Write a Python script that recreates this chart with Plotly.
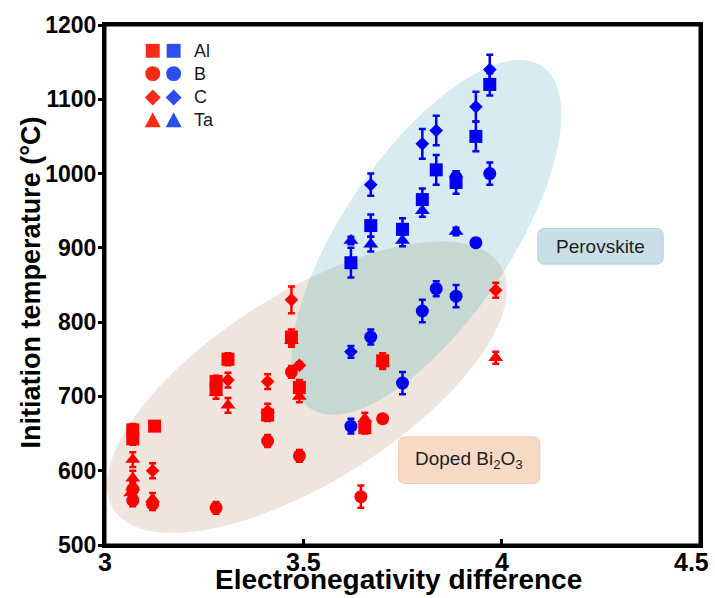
import numpy as np
import plotly.graph_objects as go

# ---------------- data ----------------
red_al_x = [3.07, 3.07, 3.125, 3.28, 3.28, 3.31, 3.41, 3.47, 3.49, 3.655, 3.70]
red_al_y = [655, 643, 660, 720, 710, 750, 675, 780, 712, 658, 748]
red_al_e = [8, 8, 0, 8, 8, 8, 8, 10, 10, 8, 10]

red_b_x = [3.07, 3.07, 3.12, 3.28, 3.41, 3.47, 3.49, 3.645, 3.70]
red_b_y = [560, 575, 555, 550, 640, 733, 620, 565, 670]
red_b_e = [8, 8, 8, 8, 8, 8, 8, 15, 4]

red_c_x = [3.12, 3.31, 3.41, 3.47, 3.49, 3.985]
red_c_y = [600, 722, 720, 830, 742, 843]
red_c_e = [10, 10, 10, 18, 4, 10]

red_ta_x = [3.07, 3.07, 3.07, 3.065, 3.12, 3.28, 3.31, 3.41, 3.47, 3.49, 3.655, 3.70, 3.985]
red_ta_y = [615, 590, 578, 570, 562, 705, 688, 682, 775, 700, 670, 745, 752]
red_ta_e = [10, 10, 8, 8, 8, 8, 10, 8, 8, 8, 8, 8, 8]

blue_al_x = [3.62, 3.67, 3.75, 3.80, 3.835, 3.885, 3.935, 3.97]
blue_al_y = [880, 930, 925, 965, 1005, 988, 1050, 1120]
blue_al_e = [20, 15, 15, 15, 20, 15, 20, 15]

blue_b_x = [3.62, 3.67, 3.75, 3.80, 3.835, 3.885, 3.885, 3.935, 3.97]
blue_b_y = [660, 780, 718, 815, 845, 835, 995, 907, 1000]
blue_b_e = [10, 10, 15, 15, 10, 15, 8, 4, 15]

blue_c_x = [3.62, 3.67, 3.80, 3.835, 3.935, 3.97]
blue_c_y = [760, 985, 1040, 1058, 1090, 1140]
blue_c_e = [8, 15, 20, 20, 20, 20]

blue_ta_x = [3.62, 3.67, 3.75, 3.80, 3.885]
blue_ta_y = [910, 905, 910, 950, 922]
blue_ta_e = [5, 10, 8, 8, 5]

legend_labels = ["Al", "B", "C", "Ta"]
x_ticks = [3, 3.5, 4, 4.5]
x_ticktext = ["3", "3.5", "4", "4.5"]
y_ticks = [500, 600, 700, 800, 900, 1000, 1100, 1200]

# ---------------- geometry helpers ----------------
W, H = 715, 598
L, R, T, B = 105, 12, 21, 53
PW, PH = W - L - R, H - T - B
XR, YR = [3.0, 4.5], [500.0, 1200.0]

def px2x(px):
    return XR[0] + (np.asarray(px) - L) / PW * (XR[1] - XR[0])

def py2y(py):
    return YR[1] - (np.asarray(py) - T) / PH * (YR[1] - YR[0])

def px2p(px):
    return (px - L) / PW

def py2p(py):
    return (H - B - py) / PH

def ellipse_px(cx, cy, a, b, ang, n=240):
    t = np.linspace(0, 2 * np.pi, n, endpoint=False)
    th = np.radians(ang)
    ux, uy = np.cos(th), -np.sin(th)
    vx, vy = np.sin(th), np.cos(th)
    X = cx + a * np.cos(t) * ux + b * np.sin(t) * vx
    Y = cy + a * np.cos(t) * uy + b * np.sin(t) * vy
    return X, Y

def inside(X, Y, cx, cy, a, b, ang):
    th = np.radians(ang)
    ux, uy = np.cos(th), -np.sin(th)
    vx, vy = np.sin(th), np.cos(th)
    dx, dy = X - cx, Y - cy
    u = dx * ux + dy * uy
    v = dx * vx + dy * vy
    return (u / a) ** 2 + (v / b) ** 2 <= 1.0

def path_from_px(X, Y):
    xs, ys = px2x(X), py2y(Y)
    s = "M %.5f,%.3f " % (xs[0], ys[0])
    s += " ".join("L %.5f,%.3f" % (x, y) for x, y in zip(xs[1:], ys[1:]))
    return s + " Z"

ELL_BLUE = (428, 235, 208, 84, 56)
ELL_BEIGE = (308, 386, 230, 95, 32.3)

bx, by = ellipse_px(*ELL_BLUE, n=720)
ex, ey = ellipse_px(*ELL_BEIGE, n=720)
m1 = inside(bx, by, *ELL_BEIGE)
m2 = inside(ex, ey, *ELL_BLUE)
ix = np.concatenate([bx[m1], ex[m2]])
iy = np.concatenate([by[m1], ey[m2]])
cxm, cym = ix.mean(), iy.mean()
order = np.argsort(np.arctan2(iy - cym, ix - cxm))
ix, iy = ix[order], iy[order]

def rrect_path(x0, y0, x1, y1, r):
    def P(px, py):
        return "%.5f,%.3f" % (float(px2x(px)), float(py2y(py)))
    return ("M " + P(x0 + r, y0) + " L " + P(x1 - r, y0) + " Q " + P(x1, y0) + " " + P(x1, y0 + r) +
            " L " + P(x1, y1 - r) + " Q " + P(x1, y1) + " " + P(x1 - r, y1) +
            " L " + P(x0 + r, y1) + " Q " + P(x0, y1) + " " + P(x0, y1 - r) +
            " L " + P(x0, y0 + r) + " Q " + P(x0, y0) + " " + P(x0 + r, y0) + " Z")

shapes = [
    dict(type="path", path=path_from_px(ex, ey), xref="x", yref="y",
         fillcolor="#efe4de", line=dict(width=0), layer="below"),
    dict(type="path", path=path_from_px(bx, by), xref="x", yref="y",
         fillcolor="#d8ebf0", line=dict(width=0), layer="below"),
    dict(type="path", path=path_from_px(ix, iy), xref="x", yref="y",
         fillcolor="#c7d8d3", line=dict(width=0), layer="below"),
    dict(type="path", path=rrect_path(540, 226, 666, 262, 7), xref="x", yref="y",
         fillcolor="#c9dee6", line=dict(width=1, color="#b8d0d9"), layer="below"),
    dict(type="path", path=rrect_path(400, 436, 542, 483, 7), xref="x", yref="y",
         fillcolor="#f7dac6", line=dict(width=1, color="#f0cdb6"), layer="below"),
    # frame
    dict(type="rect", xref="paper", yref="paper", x0=0, x1=1, y0=0, y1=1,
         line=dict(color="black", width=3), fillcolor="rgba(0,0,0,0)", layer="above"),
]

# legend glyphs (paper coords)
LRED, LBLUE = "#f82a1a", "#2b4fec"
rows_py = [47, 70, 94, 117]
cols_px = [153, 174]
annotations = []
for i, lab in enumerate(legend_labels):
    py = rows_py[i]
    for c, col in zip(cols_px, [LRED, LBLUE]):
        def pp(px_, py_):
            return "%.5f,%.5f" % (px2p(px_), py2p(py_))
        if i == 0:
            shapes.append(dict(type="rect", xref="paper", yref="paper",
                               x0=px2p(c - 7), x1=px2p(c + 7), y0=py2p(py + 7), y1=py2p(py - 7),
                               fillcolor=col, line=dict(width=0), layer="above"))
        elif i == 1:
            shapes.append(dict(type="circle", xref="paper", yref="paper",
                               x0=px2p(c - 7.5), x1=px2p(c + 7.5), y0=py2p(py + 7.5), y1=py2p(py - 7.5),
                               fillcolor=col, line=dict(width=0), layer="above"))
        elif i == 2:
            d = 8
            p = "M " + pp(c, py - d) + " L " + pp(c + d, py) + " L " + pp(c, py + d) + " L " + pp(c - d, py) + " Z"
            shapes.append(dict(type="path", xref="paper", yref="paper", path=p,
                               fillcolor=col, line=dict(width=0), layer="above"))
        else:
            p = "M " + pp(c, py - 8) + " L " + pp(c + 8, py + 7) + " L " + pp(c - 8, py + 7) + " Z"
            shapes.append(dict(type="path", xref="paper", yref="paper", path=p,
                               fillcolor=col, line=dict(width=0), layer="above"))
    annotations.append(dict(text=lab, x=px2p(192), y=py2p(py), xref="paper", yref="paper",
                            xanchor="left", yanchor="middle", showarrow=False,
                            font=dict(family="Liberation Sans, Arial", size=18, color="#1a1a1a")))

TICKFONT_X = dict(family="Liberation Sans, Arial", size=25, color="black", weight="bold")
for tv, tt in zip(x_ticks, x_ticktext):
    if tv == x_ticks[-1]:
        # last label kept inside the figure edge
        annotations.append(dict(text=tt, x=px2p(714), y=py2p(562), xref="paper", yref="paper",
                                xanchor="right", yanchor="middle", showarrow=False, font=TICKFONT_X))
    else:
        annotations.append(dict(text=tt, x=tv, y=py2p(562), xref="x", yref="paper",
                                xanchor="center", yanchor="middle", showarrow=False, font=TICKFONT_X))

annotations += [
    dict(text="Perovskite", x=float(px2x(603)), y=float(py2y(244)), xref="x", yref="y",
         showarrow=False, font=dict(family="Liberation Sans, Arial", size=19, color="#1e1e1e")),
    dict(text="Doped Bi<sub>2</sub>O<sub>3</sub>", x=float(px2x(471)), y=float(py2y(459)), xref="x", yref="y",
         showarrow=False, font=dict(family="Liberation Sans, Arial", size=19, color="#1e1e1e")),
    dict(text="Electronegativity difference", x=px2p(400), y=py2p(597), xref="paper", yref="paper",
         showarrow=False, xanchor="center", yanchor="bottom",
         font=dict(family="Liberation Sans, Arial", size=28, color="black", weight="bold")),
    dict(text="Initiation temperature (°C)", x=px2p(31), y=py2p(280), xref="paper", yref="paper",
         showarrow=False, textangle=-90, xanchor="center", yanchor="middle",
         font=dict(family="Liberation Sans, Arial", size=27, color="black", weight="bold")),
]

# ---------------- traces ----------------
RED, BLUE = "#ff0000", "#0000f5"
series = [
    (red_al_x, red_al_y, red_al_e, RED, "square", 13),
    (red_b_x, red_b_y, red_b_e, RED, "circle", 13),
    (red_c_x, red_c_y, red_c_e, RED, "diamond", 10.5),
    (red_ta_x, red_ta_y, red_ta_e, RED, "triangle-up", 13),
    (blue_al_x, blue_al_y, blue_al_e, BLUE, "square", 13),
    (blue_b_x, blue_b_y, blue_b_e, BLUE, "circle", 13),
    (blue_c_x, blue_c_y, blue_c_e, BLUE, "diamond", 10.5),
    (blue_ta_x, blue_ta_y, blue_ta_e, BLUE, "triangle-up", 13),
]

fig = go.Figure()
for xs, ys, es, col, sym, sz in series:
    fig.add_trace(go.Scatter(
        x=xs, y=ys, mode="markers", showlegend=False,
        marker=dict(symbol=sym, size=sz, color=col, line=dict(width=0)),
        error_y=dict(type="data", array=es, color=col, thickness=2.5, width=3.5),
    ))

axis_common = dict(showline=True, linecolor="black", linewidth=3, mirror=True,
                   showgrid=False, zeroline=False, tickwidth=2.5, tickcolor="black")
fig.update_layout(
    width=W, height=H,
    margin=dict(l=L, r=R, t=T, b=B),
    paper_bgcolor="white", plot_bgcolor="white",
    xaxis=dict(range=XR, tickvals=x_ticks, ticks="inside", ticklen=6,
               showticklabels=False, **axis_common),
    yaxis=dict(range=YR, tickvals=y_ticks, ticks="outside", ticklen=4,
               ticklabelstandoff=-3,
               tickfont=dict(family="Liberation Sans, Arial", size=23, color="black", weight="bold"),
               **axis_common),
    shapes=shapes,
    annotations=annotations,
)
fig.write_html("out.html")
